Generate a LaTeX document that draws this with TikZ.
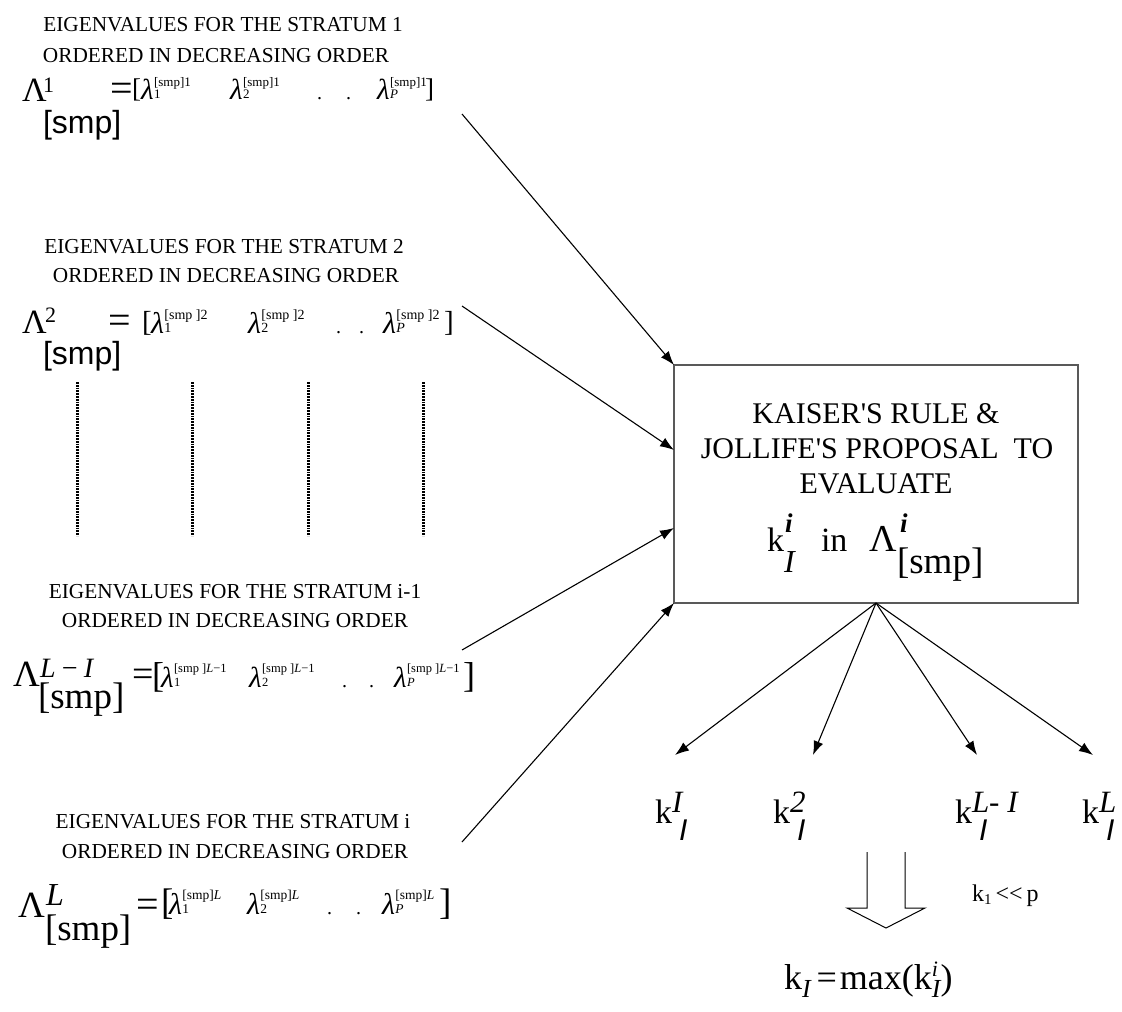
\documentclass[tikz,border=0pt]{standalone}
\usepackage{fontspec}
\setmainfont{Liberation Serif}
\newfontfamily\sansf{Liberation Sans}
\usetikzlibrary{arrows.meta}

\newcommand\fs[1]{\fontsize{#1}{#1}\selectfont}
% lambda with stacked superscript and subscript
% #1 lambda size, #2 script size, #3 subscript, #4 superscript, #5 sup raise, #6 sub raise
\newcommand\lamitem[6]{{\fs{#1}\itshape λ}\kern0.5pt\rlap{\raisebox{#5pt}{\fs{#2}#4}}\raisebox{#6pt}{\fs{#2}#3}}
% k with stacked superscript and slanted subscript
\newcommand\kitem[2]{{\fs{34}k}\rlap{\raisebox{11pt}{\fs{31}\itshape #1}}\kern7pt\raisebox{-17pt}{\fs{30}\sansf\itshape #2}}

\begin{document}
\begin{tikzpicture}[x=1pt,y=-1pt,
  every node/.style={inner sep=0pt, outer sep=0pt},
  lbl/.style={anchor=base west},
  ttl/.style={anchor=base, font=\fs{21.3}},
  boxtxt/.style={anchor=base, font=\fs{30}},
  feed/.style={-{Latex[length=14pt,width=10pt]}, line width=1.1pt},
  col/.style={line width=3pt, dash pattern=on 1.8pt off 1.0pt},
]
\useasboundingbox (0,0) rectangle (1122,1012);

% ---------- stratum 1 ----------
\node[ttl] (t1a) at (223,31) {EIGENVALUES FOR THE STRATUM 1};
\node[ttl] (t1b) at (216,62) {ORDERED IN DECREASING ORDER};
\node[lbl] (L1) at (22,101) {\fs{34}Λ};
\node[lbl] (L1sup) at (43,92) {\fs{22}1};
\node[lbl] (L1sub) at (43,133) {\fs{32}\sansf [smp]};
\node[lbl] (L1eq) at (110,101) {\fs{40}=};
\node[lbl] (L1lb) at (132,97) {\fs{27}[};
\node[lbl] (L1a) at (141,99) {\lamitem{29}{13}{1}{[smp]1}{13}{1}};
\node[lbl] (L1b) at (230,99) {\lamitem{29}{13}{2}{[smp]1}{13}{1}};
\node[lbl] (L1d1) at (317,99) {\fs{20}.};
\node[lbl] (L1d2) at (346,99) {\fs{20}.};
\node[lbl] (L1c) at (377,99) {\lamitem{29}{13}{\itshape P}{[smp]1}{13}{1}};
\node[lbl] (L1rb) at (425,97) {\fs{27}]};
\coordinate (s1) at (462,114);

% ---------- stratum 2 ----------
\node[ttl] (t2a) at (224,253) {EIGENVALUES FOR THE STRATUM 2};
\node[ttl] (t2b) at (226,282) {ORDERED IN DECREASING ORDER};
\node[lbl] (L2) at (22,333) {\fs{34}Λ};
\node[lbl] (L2sup) at (45,322) {\fs{22}2};
\node[lbl] (L2sub) at (43,364) {\fs{32}\sansf [smp]};
\node[lbl] (L2eq) at (108,333) {\fs{40}=};
\node[lbl] (L2lb) at (142,331) {\fs{29}[};
\node[lbl] (L2a) at (151,333) {\lamitem{30}{14}{1}{[smp ]2}{14}{1}};
\node[lbl] (L2b) at (248,333) {\lamitem{30}{14}{2}{[smp ]2}{14}{1}};
\node[lbl] (L2d1) at (336,333) {\fs{20}.};
\node[lbl] (L2d2) at (359,333) {\fs{20}.};
\node[lbl] (L2c) at (383,333) {\lamitem{30}{14}{\itshape P}{[smp ]2}{14}{1}};
\node[lbl] (L2rb) at (444,331) {\fs{29}]};
\coordinate (s2) at (462,306);

% ---------- omitted strata ----------
\foreach \x [count=\n] in {77,192,308,423}
  \draw[col] (\x,382) coordinate (c\n a) -- (\x,536) coordinate (c\n b);

% ---------- stratum L-1 ----------
\node[ttl] (t3a) at (235,598) {EIGENVALUES FOR THE STRATUM i-1};
\node[ttl] (t3b) at (235,627) {ORDERED IN DECREASING ORDER};
\node[lbl] (L3) at (13,686) {\fs{37}Λ};
\node[lbl] (L3sup) at (40,677) {\fs{28}\itshape L\,−\,I};
\node[lbl] (L3sub) at (38,708) {\fs{37}[smp]};
\node[lbl] (L3eq) at (132,686) {\fs{38}=};
\node[lbl] (L3lb) at (152,687) {\fs{36}[};
\node[lbl] (L3a) at (161,687) {\lamitem{29}{12.5}{1}{[smp ]\itshape L\upshape−1}{15}{1}};
\node[lbl] (L3b) at (249,687) {\lamitem{29}{12.5}{2}{[smp ]\itshape L\upshape−1}{15}{1}};
\node[lbl] (L3d1) at (342,687) {\fs{20}.};
\node[lbl] (L3d2) at (369,687) {\fs{20}.};
\node[lbl] (L3c) at (394,687) {\lamitem{29}{12.5}{\itshape P}{[smp ]\itshape L\upshape−1}{15}{1}};
\node[lbl] (L3rb) at (463,687) {\fs{36}]};
\coordinate (s3) at (462,650);

% ---------- stratum L ----------
\node[ttl] (t4a) at (233,828) {EIGENVALUES FOR THE STRATUM i};
\node[ttl] (t4b) at (235,858) {ORDERED IN DECREASING ORDER};
\node[lbl] (L4) at (18,917) {\fs{37}Λ};
\node[lbl] (L4sup) at (46,905) {\fs{32}\itshape L};
\node[lbl] (L4sub) at (45,940) {\fs{37}[smp]};
\node[lbl] (L4eq) at (136,917) {\fs{40}=};
\node[lbl] (L4lb) at (161,914) {\fs{37}[};
\node[lbl] (L4a) at (169,914) {\lamitem{30}{13.5}{1}{[smp]\itshape L}{15}{1}};
\node[lbl] (L4b) at (247,914) {\lamitem{30}{13.5}{2}{[smp]\itshape L}{15}{1}};
\node[lbl] (L4d1) at (327,914) {\fs{20}.};
\node[lbl] (L4d2) at (356,914) {\fs{20}.};
\node[lbl] (L4c) at (382,914) {\lamitem{30}{13.5}{\itshape P}{[smp]\itshape L}{15}{1}};
\node[lbl] (L4rb) at (439,914) {\fs{37}]};
\coordinate (s4) at (462,842);

% ---------- evaluation box ----------
\node[draw=black!65, line width=1.3pt, minimum width=404pt, minimum height=238pt,
      anchor=north west] (box) at (674,365) {};
\node[boxtxt] (b1) at (876,423) {KAISER\textquotesingle S RULE \&};
\node[boxtxt] (b2) at (877,458) {JOLLIFE\textquotesingle S PROPOSAL\ \ TO};
\node[boxtxt] (b3) at (876,493) {EVALUATE};
\node[lbl] (b4k) at (767,551) {\fs{34}k};
\node[lbl] (b4ks) at (785,532) {\fs{27}\bfseries\itshape i};
\node[lbl] (b4kb) at (784,572) {\fs{32}\itshape I};
\node[lbl] (b4in) at (821,551) {\fs{34}in};
\node[lbl] (b4L) at (869,551) {\fs{38}Λ};
\node[lbl] (b4Ls) at (900,532) {\fs{27}\bfseries\itshape i};
\node[lbl] (b4Lb) at (897,573) {\fs{37}[smp]};

\coordinate (in1) at (674,365);
\coordinate (in2) at (674,450);
\coordinate (in3) at (674,528);
\coordinate (in4) at (674,603);
\draw[feed] (s1) -- (in1);
\draw[feed] (s2) -- (in2);
\draw[feed] (s3) -- (in3);
\draw[feed] (s4) -- (in4);

% ---------- number of components per stratum ----------
\coordinate (o1) at (675,755);
\coordinate (o2) at (813,755);
\coordinate (o3) at (977,755);
\coordinate (o4) at (1093,755);
\foreach \n in {1,...,4} \draw[feed] (box.south) -- (o\n);

\node[lbl] (k1) at (655,823) {\kitem{I}{I}};
\node[lbl] (k2) at (773,823) {\kitem{2}{I}};
\node[lbl] (k3) at (955,823) {\kitem{L- I}{I}};
\node[lbl] (k4) at (1082,823) {\kitem{L}{I}};

% ---------- result ----------
\draw[line width=1pt] (867,852) -- (867,908) -- (847,908) -- (886,928) -- (925,908)
  -- (905,908) -- (905,852);
\coordinate (barrow) at (886,928);
\node[lbl] (cond) at (972,901) {\fs{24}k\raisebox{-3pt}{\fs{15}1}\,{<}{<}\,p};
\node[lbl] (res) at (784,989) {\fs{36}k\raisebox{-8pt}{\fs{26}\itshape I}\kern6pt=\kern3pt max(k\rlap{\raisebox{13pt}{\fs{22}\itshape i}}\raisebox{-8pt}{\fs{26}\itshape I})};
\end{tikzpicture}
\end{document}
